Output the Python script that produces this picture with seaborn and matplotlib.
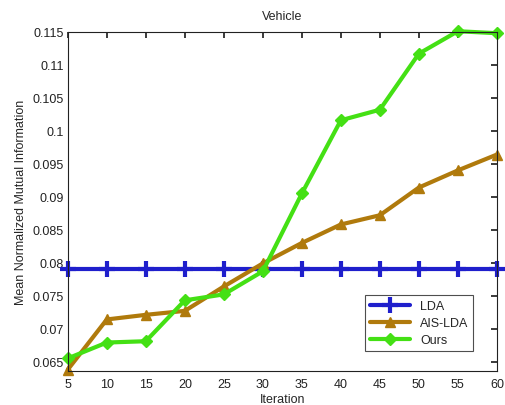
import pandas as pd
import matplotlib
matplotlib.use("Agg")
import matplotlib.pyplot as plt
import seaborn as sns

# Data
iterations = [5, 10, 15, 20, 25, 30, 35, 40, 45, 50, 55, 60]
lda = [0.079] * 12
ais_lda = [0.0638, 0.0714, 0.0721, 0.0727, 0.0764, 0.0799, 0.0830, 0.0858, 0.0872, 0.0914, 0.0940, 0.0964]
ours = [0.0655, 0.0679, 0.0681, 0.0743, 0.0752, 0.0787, 0.0905, 0.1016, 0.1032, 0.1117, 0.1151, 0.1148]
methods = ["LDA", "AIS-LDA", "Ours"]

sns.set_theme(style="white")
plt.rcParams['font.family'] = ['Liberation Sans', 'DejaVu Sans']

df = pd.DataFrame({
    "Iteration": iterations * 3,
    "Score": lda + ais_lda + ours,
    "Method": [m for m in methods for _ in iterations],
})

palette = {"LDA": "#1f1fcc", "AIS-LDA": "#b07a0c", "Ours": "#44e014"}
markers = {"LDA": "+", "AIS-LDA": "^", "Ours": "D"}
msize = {"LDA": 12, "AIS-LDA": 7, "Ours": 6.5}

fig = plt.figure(figsize=(5.06, 4.06), dpi=100)
ax = fig.add_axes([0.134, 0.084, 0.848, 0.835])

for m in methods:
    sub = df[df["Method"] == m]
    sns.lineplot(data=sub, x="Iteration", y="Score", ax=ax, color=palette[m],
                 marker=markers[m], markersize=msize[m],
                 markeredgewidth=3 if m == "LDA" else 1,
                 markeredgecolor=palette[m], linewidth=3, label=m, clip_on=False)

ax.set_xlim(5, 60)
ax.set_ylim(0.0636, 0.115)
ax.set_xticks(iterations)
ax.set_yticks([0.065, 0.07, 0.075, 0.08, 0.085, 0.09, 0.095, 0.1, 0.105, 0.11, 0.115])
ax.set_yticklabels(["0.065", "0.07", "0.075", "0.08", "0.085", "0.09", "0.095", "0.1", "0.105", "0.11", "0.115"])
ax.tick_params(direction="in", length=4, top=True, right=True, labelsize=9, colors="#222222", pad=3)
ax.tick_params(axis="x", pad=5)
for s in ax.spines.values():
    s.set_color("#222222")
    s.set_linewidth(0.8)

ax.set_xlabel("Iteration", fontsize=9, labelpad=2)
ax.set_ylabel("Mean Normalized Mutual Information", fontsize=9)
ax.set_title("Vehicle", fontsize=9, pad=9)

leg = ax.legend(loc="lower right", bbox_to_anchor=(0.96, 0.04), fontsize=9, frameon=True,
                fancybox=False, edgecolor="#222222", handlelength=3.2, borderpad=0.4,
                labelspacing=0.4)
leg.get_frame().set_linewidth(0.8)
leg.set_zorder(5)

fig.savefig("out.png", dpi=100)
